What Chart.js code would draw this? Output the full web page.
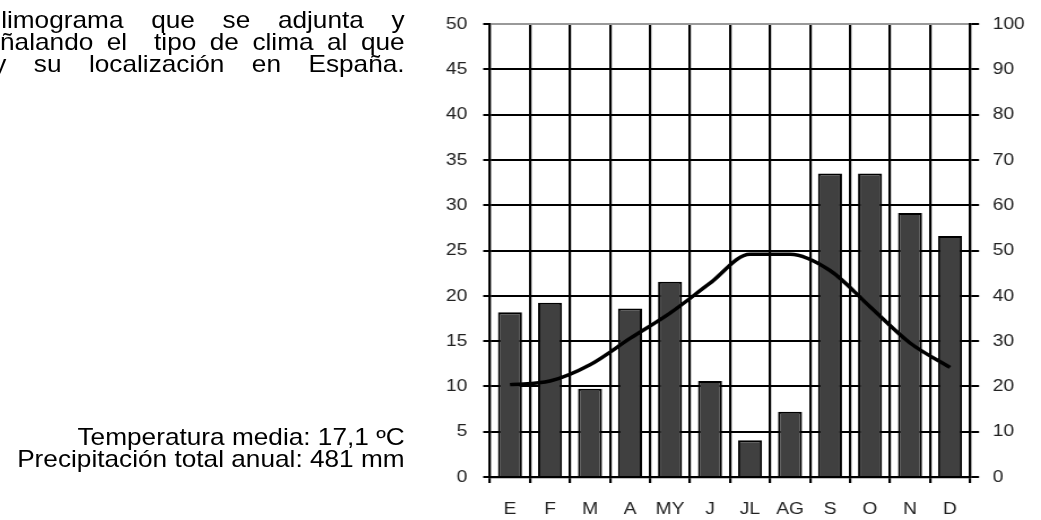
<!DOCTYPE html>
<html>
<head>
<meta charset="utf-8">
<script src="https://cdn.jsdelivr.net/npm/chart.js@4/dist/chart.umd.min.js"></script>
<style>
  html, body { margin: 0; padding: 0; background: #fff; overflow: hidden; }
  /* la imagen original está estirada en horizontal */
  #pagina { position: absolute; left: 0; top: 0; width: 921px; height: 520px;
            transform: scaleX(1.1303); transform-origin: 0 0;
            font-family: "Liberation Sans", Arial, sans-serif; color: #000; }
  .linea { position: absolute; font-size: 23.2px; line-height: 22px; white-space: normal;
           text-align: justify; text-align-last: justify; }
  .dato { position: absolute; right: 563px; font-size: 23.2px; line-height: 22px; white-space: nowrap; }
  #grafico { position: absolute; left: 360px; top: 0; width: 561px; height: 520px; }
</style>
</head>
<body>
<div id="pagina">
  <div class="linea" style="left:1px; top:9px; width:357px;">limograma que se adjunta y</div>
  <div class="linea" style="left:0px; top:31px; width:358px;">ñalando el&nbsp; tipo de clima al que</div>
  <div class="linea" style="left:-6px; top:53px; width:364px;">y su localización en España.</div>
  <div class="dato" style="top:426px;">Temperatura media: 17,1 ºC</div>
  <div class="dato" style="top:448px;">Precipitación total anual: 481 mm</div>
  <div id="grafico"><canvas id="climograma"></canvas></div>
</div>
<script>
const meses = ['E', 'F', 'M', 'A', 'MY', 'J', 'JL', 'AG', 'S', 'O', 'N', 'D'];
const precipitacion = [36.4, 38.5, 19.5, 37.2, 43.1, 21.2, 8.1, 14.4, 67, 67, 58.3, 53.2]; // mm, eje derecho
const temperatura = [10.2, 10.6, 12.4, 15.3, 18.1, 21.4, 24.6, 24.6, 22.8, 18.8, 14.8, 12.1]; // ºC, eje izquierdo

const fuenteEjes = { family: 'Liberation Sans', size: 17 };

const ctx = document.getElementById('climograma').getContext('2d');
const chart = new Chart(ctx, {
    data: {
        labels: meses,
        datasets: [{
            type: 'line',
            label: 'Temperatura',
            data: temperatura,
            yAxisID: 'yT',
            borderColor: '#000',
            borderWidth: 3.5,
            pointRadius: 0,
            cubicInterpolationMode: 'monotone',
            order: 0
        }, {
            type: 'bar',
            label: 'Precipitación',
            data: precipitacion,
            yAxisID: 'yP',
            backgroundColor: '#404040',
            borderColor: '#000',
            borderWidth: 2,
            categoryPercentage: 1,
            barPercentage: 0.6,
            order: 1
        }]
    },
    options: {
        responsive: true,
        maintainAspectRatio: false,
        animation: false,
        layout: { padding: { top: 20, left: 0, right: 0, bottom: 0 } },
        plugins: { legend: { display: false }, tooltip: { enabled: false } },
        scales: {
            x: {
                grid: { color: '#000', lineWidth: 2.2, tickLength: 6, offset: true },
                border: { color: '#000', width: 2.2 },
                ticks: { color: '#222', font: fuenteEjes, padding: 16, maxRotation: 0, autoSkip: false },
                afterFit: function(scale) { scale.height = 43; }
            },
            yT: {
                position: 'left',
                min: 0,
                max: 50,
                grid: {
                    color: (c) => c.tick && c.tick.value === 50 ? '#999' : '#000',
                    tickColor: '#000',
                    lineWidth: 2,
                    tickLength: 6
                },
                border: { color: '#000', width: 2.2 },
                ticks: { stepSize: 5, color: '#222', font: fuenteEjes, padding: 14 },
                afterFit: function(scale) { scale.width = 73.5; }
            },
            yP: {
                position: 'right',
                min: 0,
                max: 100,
                grid: { drawOnChartArea: false, color: '#000', lineWidth: 2, tickLength: 8 },
                border: { color: '#000', width: 2.2 },
                ticks: { stepSize: 10, color: '#222', font: fuenteEjes, padding: 12 },
                afterFit: function(scale) { scale.width = 62.8; }
            }
        }
    }
});
</script>
</body>
</html>
